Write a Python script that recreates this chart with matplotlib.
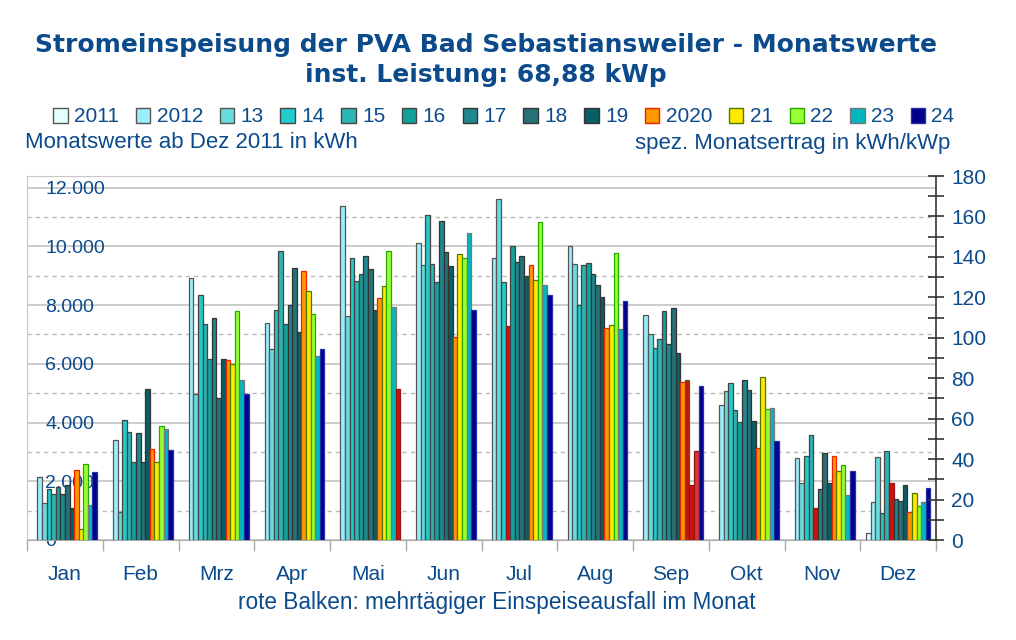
#Monatswerte der PVA Bad Sebastiansweiler als gruppierte Balken, je Jahr eine Farbe

import numpy as np
import matplotlib
matplotlib.use('Agg')
import matplotlib.pyplot as plt
from matplotlib.patches import Patch
from matplotlib.ticker import MultipleLocator, FixedLocator

nan = np.nan
leistung = 68.88  # kWp

monate = ['Jan', 'Feb', 'Mrz', 'Apr', 'Mai', 'Jun', 'Jul', 'Aug', 'Sep', 'Okt', 'Nov', 'Dez']
jahre = ['2011', '2012', '13', '14', '15', '16', '17', '18', '19', '2020', '21', '22', '23', '24']

# kWh pro Monat
y2011 = [nan, nan, nan, nan, nan, nan, nan, nan, nan, nan, nan, 240]
y2012 = [2150, 3400, 8920, 7400, 11360, 10110, 9600, 10020, 7650, 4600, 2780, 1280]
y2013 = [1250, 970, 4960, 6520, 7620, 9370, 11630, 9400, 7010, 5090, 1940, 2820]
y2014 = [1750, 4090, 8340, 7850, 9600, 11070, 8800, 8020, 6530, 5340, 2870, 920]
y2015 = [1570, 3680, 7350, 9840, 8820, 9400, 7300, 9380, 6860, 4420, 3560, 3020]
y2016 = [1800, 2650, 6150, 7350, 9050, 8790, 10020, 9450, 7800, 4010, 1100, 1950]
y2017 = [1560, 3640, 7550, 8000, 9660, 10860, 9470, 9070, 6680, 5440, 1750, 1400]
y2018 = [1870, 2650, 4830, 9270, 9220, 9800, 9660, 8690, 7900, 5100, 2980, 1320]
y2019 = [1080, 5140, 6170, 7090, 7840, 9330, 8990, 8280, 6380, 4040, 1950, 1890]
y2020 = [2370, 3090, 6120, 9160, 8240, 6900, 9360, 7210, 5390, 3150, 2850, 940]
y2021 = [360, 2640, 5990, 8480, 8650, 9740, 8850, 7320, 5440, 5540, 2340, 1610]
y2022 = [2590, 3900, 7790, 7690, 9840, 9620, 10820, 9790, 1860, 4450, 2550, 1160]
y2023 = [1190, 3770, 5440, 6260, 7930, 10470, 8690, 7180, 3020, 4480, 1530, 1280]
y2024 = [2310, 3070, 4960, 6490, 5160, 7820, 8340, 8130, 5260, 3360, 2340, 1760]
werte = [y2011, y2012, y2013, y2014, y2015, y2016, y2017, y2018, y2019,
         y2020, y2021, y2022, y2023, y2024]

# mehrtaegiger Einspeiseausfall: (Jahr, Monat)
ausfall = [('24', 'Mai'), ('15', 'Jul'), ('21', 'Sep'), ('22', 'Sep'),
           ('23', 'Sep'), ('16', 'Nov'), ('16', 'Dez')]

farben = ['#e2ffff', '#9aeefc', '#66dcdc', '#22caca', '#2db4b4', '#139f9a', '#1e8890',
          '#257378', '#075e64', '#ff9900', '#ffea00', '#99ff33', '#00b6c0', '#00008a']
kanten = ['#555555', '#555555', '#555555', '#444444', '#444444', '#444444', '#333333',
          '#333333', '#333333', '#ee2200', '#557700', '#22aa00', '#777777', '#2233aa']
rot = '#cc1111'
txt = '#0b4a8b'

plt.rcParams['font.family'] = ['Liberation Sans', 'DejaVu Sans']

fig = plt.figure(figsize=(10.16, 6.4), dpi=100)
ax = fig.add_axes([0.0266, 0.15625, 0.8947, 0.56875])

x = np.arange(len(monate))
n = len(jahre)
w = 0.85 / n
for j, jahr in enumerate(jahre):
    fc = [farben[j]] * 12
    ec = [kanten[j]] * 12
    for (ja, mo) in ausfall:
        if ja == jahr:
            fc[monate.index(mo)] = rot if ja != '23' else '#dd3333'
            ec[monate.index(mo)] = '#991111' if ja != '21' else '#446600'
    ax.bar(x + (j - (n - 1) / 2) * w, werte[j], width=w, color=fc,
           edgecolor=ec, linewidth=0.9, zorder=3)

ax.set_xlim(-0.5, 11.5)
ax.set_ylim(0, 180 * leistung)

# Gitter
ax.yaxis.set_major_locator(MultipleLocator(2000))
ax.yaxis.set_minor_locator(MultipleLocator(1000))
ax.grid(axis='y', which='major', color='#c4c4c4', linewidth=1.2, zorder=0)
ax.grid(axis='y', which='minor', color='#b8b8b8', linewidth=1, linestyle=(0, (3, 3)), zorder=0)

ax.set_yticks(np.arange(0, 12001, 2000))
ax.set_yticklabels(['0', '2.000', '4.000', '6.000', '8.000', '10.000', '12.000'])
ax.tick_params(axis='y', which='both', length=0, pad=-13, labelsize=14, labelcolor=txt)
for lab in ax.get_yticklabels():
    lab.set_horizontalalignment('left')
    lab.set_zorder(5)

ax.set_xticks(x)
ax.set_xticklabels(monate)
ax.xaxis.set_minor_locator(FixedLocator(np.arange(-0.5, 12, 1)))
ax.tick_params(axis='x', which='major', length=0, pad=18, labelsize=15, labelcolor=txt)
ax.tick_params(axis='x', which='minor', length=8, color='#aaaaaa', width=1)

for s in ['left', 'top']:
    ax.spines[s].set_color('#c8c8c8')
ax.spines['bottom'].set_color('#aaaaaa')
ax.spines['right'].set_visible(False)

# rechte Achse: spez. Ertrag
ax2 = ax.twinx()
ax2.set_ylim(0, 180)
ax2.yaxis.set_major_locator(MultipleLocator(20))
ax2.yaxis.set_minor_locator(MultipleLocator(10))
ax2.tick_params(axis='y', which='both', direction='inout', length=12, width=1.2,
                color='#333333', labelsize=15, labelcolor=txt, pad=5)
ax2.spines['right'].set_color('#333333')
ax2.spines['right'].set_linewidth(1.2)
for s in ['left', 'top', 'bottom']:
    ax2.spines[s].set_visible(False)

fig.text(0.478, 0.93, 'Stromeinspeisung der PVA Bad Sebastiansweiler - Monatswerte',
         ha='center', va='center', fontsize=18, fontweight='bold', color=txt,
         family='DejaVu Sans')
fig.text(0.478, 0.883, 'inst. Leistung: 68,88 kWp', ha='center', va='center',
         fontsize=18, fontweight='bold', color=txt, family='DejaVu Sans')

handles = [Patch(facecolor=farben[j], edgecolor=kanten[j], linewidth=1) for j in range(n)]
fig.legend(handles, jahre, loc='center', bbox_to_anchor=(0.496, 1 - 117 / 640), ncol=n,
           frameon=False, fontsize=15, handlelength=0.7, handleheight=0.7,
           handletextpad=0.3, columnspacing=0.8, labelcolor=txt)

fig.text(0.025, 1 - 143 / 640, 'Monatswerte ab Dez 2011 in kWh', ha='left', va='center',
         fontsize=16, color=txt)
fig.text(0.935, 1 - 143 / 640, 'spez. Monatsertrag in kWh/kWp', ha='right', va='center',
         fontsize=16, color=txt)
fig.text(0.489, 1 - 602 / 640, 'rote Balken: mehrtägiger Einspeiseausfall im Monat',
         ha='center', va='center', fontsize=16.3, color=txt)

fig.savefig('out.png', dpi=100)
